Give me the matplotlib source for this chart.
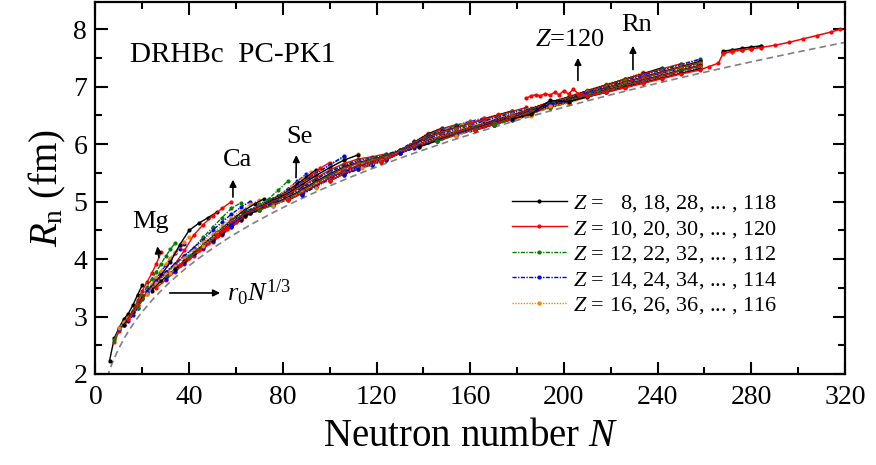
import numpy as np
import matplotlib
matplotlib.use("Agg")
import matplotlib.pyplot as plt

plt.rcParams['font.family'] = ['Liberation Serif', 'DejaVu Serif']
plt.rcParams['mathtext.fontset'] = 'custom'
plt.rcParams['mathtext.rm'] = 'Liberation Serif'
plt.rcParams['mathtext.it'] = 'Liberation Serif:italic'

# each chain: (first N, step in N, neutron rms radius R_n in fm)
Z008 = (6, 2, [2.23, 2.62, 2.80, 2.95, 3.05, 3.20, 3.38, 3.55])
Z010 = (8, 2, [2.55, 2.74, 2.86, 2.98, 3.10, 3.28, 3.45, 3.60, 3.75, 3.92, 4.12])
Z012 = (8, 2, [2.60, 2.78, 2.90, 3.00, 3.10, 3.25, 3.38, 3.52, 3.65, 3.78, 3.92, 4.05, 4.17, 4.28])
Z014 = (10, 2, [2.78, 2.85, 2.92, 3.02, 3.15, 3.30, 3.42, 3.55, 3.67, 3.78, 3.90, 4.00, 4.10, 4.18, 4.26])
Z016 = (10, 2, [2.80, 2.90, 2.98, 3.08, 3.20, 3.32, 3.45, 3.56, 3.68, 3.80, 3.92, 4.02, 4.12, 4.22, 4.30, 4.38])
Z018 = (12, 4, [2.85, 3.08, 3.32, 3.52, 3.72, 3.95, 4.25, 4.50, 4.62, 4.72, 4.82])
Z020 = (14, 4, [2.95, 3.20, 3.42, 3.60, 3.75, 3.92, 4.15, 4.42, 4.60, 4.75, 4.88, 5.00])
Z022 = (18, 4, [3.15, 3.40, 3.58, 3.74, 3.90, 4.05, 4.20, 4.38, 4.55, 4.72, 4.88, 4.98])
Z024 = (22, 4, [3.45, 3.62, 3.78, 3.92, 4.06, 4.20, 4.34, 4.50, 4.64, 4.78, 4.90, 5.00])
Z026 = (22, 4, [3.40, 3.58, 3.74, 3.88, 4.02, 4.16, 4.30, 4.44, 4.58, 4.72, 4.84, 4.95, 5.03])
Z028 = (24, 4, [3.45, 3.62, 3.76, 3.90, 4.04, 4.18, 4.32, 4.46, 4.60, 4.74, 4.86, 4.96, 5.05])
Z030 = (26, 4, [3.50, 3.64, 3.78, 3.92, 4.05, 4.18, 4.30, 4.42, 4.55, 4.68, 4.80, 4.92, 5.02, 5.10])
Z032 = (30, 4, [3.68, 3.82, 3.96, 4.10, 4.22, 4.35, 4.48, 4.60, 4.72, 4.84, 4.95, 5.05, 5.20, 5.35])
Z034 = (30, 4, [3.65, 3.80, 3.94, 4.08, 4.20, 4.32, 4.44, 4.56, 4.68, 4.80, 4.90, 5.00, 5.10, 5.22, 5.35, 5.48])
Z036 = (32, 4, [3.75, 3.90, 4.04, 4.16, 4.28, 4.40, 4.52, 4.64, 4.75, 4.86, 4.96, 5.05, 5.15, 5.27, 5.40, 5.52])
Z038 = (34, 4, [3.82, 3.96, 4.10, 4.22, 4.34, 4.46, 4.58, 4.70, 4.80, 4.90, 5.00, 5.08, 5.18, 5.30, 5.42, 5.55])
Z040 = (36, 4, [3.90, 4.02, 4.15, 4.28, 4.40, 4.52, 4.64, 4.75, 4.85, 4.94, 5.02, 5.10, 5.20, 5.32, 5.45, 5.58, 5.68])
Z042 = (40, 6, [4.05, 4.25, 4.47, 4.68, 4.83, 4.94, 5.05, 5.17, 5.32, 5.48, 5.64, 5.77])
Z044 = (46, 6, [4.22, 4.45, 4.66, 4.82, 4.93, 5.04, 5.16, 5.32, 5.48, 5.64, 5.79])
Z046 = (46, 6, [4.22, 4.45, 4.65, 4.81, 4.92, 5.03, 5.15, 5.30, 5.46, 5.60, 5.72, 5.82])
Z048 = (52, 6, [4.42, 4.63, 4.80, 4.91, 5.02, 5.14, 5.29, 5.45, 5.59, 5.72, 5.81])
Z050 = (52, 6, [4.42, 4.62, 4.79, 4.90, 5.00, 5.12, 5.26, 5.41, 5.55, 5.66, 5.74, 5.78, 5.83])
Z052 = (58, 6, [4.60, 4.77, 4.88, 4.99, 5.10, 5.24, 5.39, 5.53, 5.64, 5.72, 5.76, 5.82, 5.90])
Z054 = (58, 6, [4.60, 4.77, 4.88, 4.98, 5.09, 5.23, 5.38, 5.52, 5.62, 5.71, 5.75, 5.81, 5.90, 6.05])
Z056 = (64, 6, [4.75, 4.87, 4.96, 5.08, 5.21, 5.36, 5.49, 5.60, 5.69, 5.74, 5.80, 5.89, 6.04, 6.19])
Z058 = (64, 6, [4.75, 4.86, 4.96, 5.07, 5.20, 5.35, 5.48, 5.60, 5.68, 5.73, 5.80, 5.89, 6.03, 6.18, 6.28])
Z060 = (70, 6, [4.85, 4.95, 5.05, 5.18, 5.33, 5.46, 5.58, 5.67, 5.72, 5.79, 5.88, 6.02, 6.16, 6.27, 6.34])
Z062 = (70, 6, [4.85, 4.94, 5.05, 5.18, 5.32, 5.46, 5.57, 5.66, 5.72, 5.79, 5.88, 6.02, 6.15, 6.25, 6.33, 6.40])
Z064 = (76, 6, [4.93, 5.04, 5.16, 5.30, 5.44, 5.55, 5.64, 5.70, 5.78, 5.88, 6.01, 6.14, 6.24, 6.31, 6.39, 6.46])
Z066 = (76, 6, [4.93, 5.04, 5.16, 5.30, 5.43, 5.55, 5.64, 5.70, 5.78, 5.87, 6.01, 6.13, 6.23, 6.30, 6.38, 6.45, 6.52])
Z068 = (82, 6, [5.02, 5.14, 5.28, 5.41, 5.53, 5.62, 5.69, 5.77, 5.87, 6.00, 6.12, 6.22, 6.29, 6.36, 6.44, 6.51, 6.58])
Z070 = (82, 6, [5.02, 5.14, 5.28, 5.41, 5.53, 5.62, 5.69, 5.77, 5.87, 5.99, 6.11, 6.21, 6.28, 6.36, 6.43, 6.50, 6.57, 6.64])
Z072 = (88, 6, [5.12, 5.26, 5.39, 5.51, 5.60, 5.67, 5.76, 5.86, 5.98, 6.10, 6.19, 6.27, 6.34, 6.41, 6.48, 6.56, 6.62])
Z074 = (88, 6, [5.12, 5.26, 5.39, 5.51, 5.60, 5.67, 5.75, 5.86, 5.98, 6.09, 6.18, 6.25, 6.32, 6.40, 6.47, 6.54, 6.61])
Z076 = (94, 6, [5.24, 5.37, 5.49, 5.58, 5.66, 5.75, 5.86, 5.97, 6.07, 6.16, 6.24, 6.31, 6.38, 6.45, 6.52, 6.59])
Z078 = (100, 6, [5.36, 5.48, 5.57, 5.65, 5.74, 5.85, 5.96, 6.06, 6.15, 6.22, 6.29, 6.36, 6.44, 6.51, 6.58])
Z080 = (100, 6, [5.36, 5.48, 5.57, 5.65, 5.74, 5.85, 5.96, 6.05, 6.14, 6.21, 6.28, 6.35, 6.42, 6.49, 6.56])
Z082 = (106, 6, [5.47, 5.56, 5.64, 5.73, 5.85, 5.95, 6.04, 6.12, 6.20, 6.26, 6.34, 6.41, 6.48, 6.54])
Z084 = (106, 6, [5.47, 5.56, 5.64, 5.73, 5.85, 5.94, 6.03, 6.11, 6.19, 6.25, 6.32, 6.39, 6.46, 6.53])
Z086 = (114, 8, [5.58, 5.70, 5.85, 5.98, 6.11, 6.21, 6.31, 6.41, 6.51, 6.63, 6.74, 6.83, 6.94, 7.04, 7.14, 7.26])
Z088 = (122, 8, [5.69, 5.84, 5.97, 6.09, 6.20, 6.30, 6.40, 6.49, 6.62, 6.73, 6.82, 6.93, 7.03, 7.13, 7.23, 7.33])
Z090 = (122, 8, [5.69, 5.84, 5.97, 6.09, 6.20, 6.30, 6.39, 6.49, 6.61, 6.72, 6.81, 6.92, 7.02, 7.12, 7.22, 7.31, 7.40])
Z092 = (130, 8, [5.84, 5.96, 6.08, 6.19, 6.29, 6.38, 6.48, 6.60, 6.71, 6.80, 6.91, 7.01, 7.11, 7.21, 7.30, 7.39, 7.48])
Z094 = (130, 8, [5.84, 5.96, 6.07, 6.18, 6.28, 6.38, 6.48, 6.59, 6.70, 6.79, 6.91, 7.00, 7.10, 7.20, 7.29, 7.38, 7.47])
Z096 = (138, 8, [5.95, 6.06, 6.17, 6.27, 6.37, 6.47, 6.58, 6.69, 6.78, 6.90, 6.99, 7.09, 7.18, 7.27, 7.36, 7.45])
Z098 = (138, 8, [5.95, 6.06, 6.17, 6.27, 6.37, 6.46, 6.58, 6.69, 6.78, 6.89, 6.98, 7.08, 7.17, 7.26, 7.35, 7.44])
Z100 = (146, 8, [6.05, 6.16, 6.26, 6.36, 6.45, 6.57, 6.67, 6.76, 6.88, 6.97, 7.07, 7.16, 7.25, 7.34, 7.42])
Z102 = (146, 8, [6.05, 6.16, 6.26, 6.35, 6.45, 6.56, 6.67, 6.76, 6.88, 6.97, 7.06, 7.15, 7.24, 7.33, 7.41])
Z104 = (154, 8, [6.15, 6.25, 6.34, 6.44, 6.55, 6.66, 6.75, 6.87, 6.96, 7.05, 7.14, 7.23, 7.31, 7.40])
Z106 = (154, 8, [6.15, 6.25, 6.34, 6.44, 6.55, 6.65, 6.74, 6.86, 6.95, 7.04, 7.13, 7.22, 7.30, 7.39])
Z108 = (162, 8, [6.24, 6.34, 6.43, 6.54, 6.65, 6.73, 6.85, 6.94, 7.03, 7.12, 7.20, 7.29, 7.37])
Z110 = (162, 8, [6.24, 6.34, 6.43, 6.54, 6.64, 6.73, 6.85, 6.93, 7.02, 7.11, 7.19, 7.28, 7.36])
Z112 = (170, 8, [6.33, 6.42, 6.53, 6.63, 6.72, 6.84, 6.93, 7.01, 7.10, 7.18, 7.27, 7.35])
Z114 = (178, 8, [6.42, 6.50, 6.70, 6.72, 6.83, 6.91, 7.00, 7.09, 7.17, 7.25, 7.33])
Z116 = (178, 8, [6.43, 6.49, 6.66, 6.71, 6.82, 6.91, 6.99, 7.08, 7.16, 7.24, 7.32])
Z118 = (178, 8, [6.44, 6.52, 6.76, 6.74, 6.82, 6.90, 6.99, 7.07, 7.15, 7.23, 7.31])

# bound again beyond N = 258
Z112b = (268, 4, [7.60, 7.63, 7.65, 7.68, 7.70])
Z114b = (268, 4, [7.58, 7.61, 7.64, 7.66, 7.69])
Z116b = (268, 4, [7.57, 7.60, 7.63, 7.65])
Z118b = (268, 4, [7.62, 7.64, 7.67, 7.69, 7.71])

N_Z120 = [184, 186, 188, 190, 192, 194, 196, 198, 200, 202, 204, 206, 210, 218, 226, 234,
          242, 250, 258, 262, 266, 268, 272, 276, 280, 284, 290, 296, 302, 308, 314, 318]
R_Z120 = [6.80, 6.84, 6.86, 6.84, 6.88, 6.85, 6.90, 6.86, 6.93, 6.87, 6.96, 6.88, 6.83, 6.90, 6.98, 7.06,
          7.14, 7.22, 7.29, 7.35, 7.41, 7.58, 7.62, 7.64, 7.66, 7.68, 7.72, 7.77, 7.83, 7.89, 7.95, 8.00]

r0 = 1.136  # fm

chains = [
    (8, Z008), (10, Z010), (12, Z012), (14, Z014), (16, Z016), (18, Z018), (20, Z020),
    (22, Z022), (24, Z024), (26, Z026), (28, Z028), (30, Z030), (32, Z032), (34, Z034),
    (36, Z036), (38, Z038), (40, Z040), (42, Z042), (44, Z044), (46, Z046), (48, Z048),
    (50, Z050), (52, Z052), (54, Z054), (56, Z056), (58, Z058), (60, Z060), (62, Z062),
    (64, Z064), (66, Z066), (68, Z068), (70, Z070), (72, Z072), (74, Z074), (76, Z076),
    (78, Z078), (80, Z080), (82, Z082), (84, Z084), (86, Z086), (88, Z088), (90, Z090),
    (92, Z092), (94, Z094), (96, Z096), (98, Z098), (100, Z100), (102, Z102), (104, Z104),
    (106, Z106), (108, Z108), (110, Z110), (112, Z112), (114, Z114), (116, Z116), (118, Z118),
    (112, Z112b), (114, Z114b), (116, Z116b), (118, Z118b),
]

dashdot = (0, (3, 1, 1, 1))
styles = {
    8: ('black', '-'),
    0: ('red', '-'),
    2: ('green', dashdot),
    4: ('blue', dashdot),
    6: ('#ff8000', (0, (1, 1))),
}
labels = {
    8: r'$Z$ =   8, 18, 28, ... , 118',
    0: r'$Z$ = 10, 20, 30, ... , 120',
    2: r'$Z$ = 12, 22, 32, ... , 112',
    4: r'$Z$ = 14, 24, 34, ... , 114',
    6: r'$Z$ = 16, 26, 36, ... , 116',
}

fig = plt.figure(figsize=(8.76, 4.65), dpi=100)
ax = fig.add_axes([0.109, 0.1957, 0.8555, 0.7996])

NN = np.linspace(5, 320, 400)
ax.plot(NN, r0 * NN ** (1 / 3), color='gray', ls=(0, (4, 2.5)), lw=1.2, zorder=1)

for z, (n0, dn, r) in chains:
    c, ls = styles[z % 10]
    n = n0 + dn * np.arange(len(r))
    ax.plot(n, r, color=c, ls=ls, lw=1.0, marker='o', ms=3, mec='none', zorder=2)

ax.plot(N_Z120, R_Z120, color='red', lw=1.1, marker='o', ms=3, mec='none', zorder=3)

handles = []
for k in [8, 0, 2, 4, 6]:
    c, ls = styles[k]
    h, = ax.plot([], [], color=c, ls=ls, lw=1.0, marker='o', ms=3, mec='none')
    handles.append(h)
ax.legend(handles, [labels[k] for k in [8, 0, 2, 4, 6]], loc='upper left',
          bbox_to_anchor=(0.544, 0.51), frameon=False, fontsize=16, numpoints=1,
          handlelength=2.45, handletextpad=0.3, labelspacing=0.2, borderaxespad=0)

ax.set_xlim(0, 320)
ax.set_ylim(2, 8.47)
ax.set_xticks(np.arange(0, 321, 40))
ax.set_xticks(np.arange(0, 321, 20), minor=True)
ax.set_yticks(np.arange(2, 8.1, 1))
ax.set_yticks(np.arange(2, 8.1, 0.5), minor=True)
ax.tick_params(which='both', direction='in', top=True, right=True, width=1.5, labelsize=20)
ax.tick_params(axis='x', pad=8)
ax.tick_params(axis='y', pad=6)
ax.tick_params(which='major', length=9)
ax.tick_params(which='minor', length=5)
for s in ax.spines.values():
    s.set_linewidth(1.6)

ax.set_xlabel(r'Neutron number $N$', fontsize=28, labelpad=6)
ax.set_ylabel(r'$R_{\rm n}$ (fm)', fontsize=28, labelpad=4)

ax.text(14.7, 7.43, 'DRHBc  PC-PK1', fontsize=21)

arrow = dict(arrowstyle='-|>', color='black', lw=1.2, mutation_scale=10)
ax.annotate('', xy=(26.3, 4.27), xytext=(27.2, 3.98), arrowprops=arrow)
ax.text(23.3, 4.64, 'Mg', fontsize=19, ha='center', va='center')
ax.annotate('', xy=(58.7, 5.43), xytext=(58.7, 5.03), arrowprops=arrow)
ax.text(60.5, 5.72, 'Ca', fontsize=19, ha='center', va='center')
ax.annotate('', xy=(85.8, 5.86), xytext=(85.6, 5.37), arrowprops=arrow)
ax.text(87.3, 6.12, 'Se', fontsize=19, ha='center', va='center')
ax.annotate('', xy=(206, 7.55), xytext=(206, 7.06), arrowprops=arrow)
ax.text(202.6, 7.81, r'$Z$=120', fontsize=19, ha='center', va='center')
ax.annotate('', xy=(229.5, 7.76), xytext=(229.5, 7.25), arrowprops=arrow)
ax.text(231, 8.07, 'Rn', fontsize=19, ha='center', va='center')
ax.annotate('', xy=(54.4, 3.41), xytext=(30.5, 3.41), arrowprops=arrow)
ax.text(56, 3.41, r'$r_0N^{1/3}$', fontsize=19, ha='left', va='center')

fig.savefig('out.png', dpi=100)
